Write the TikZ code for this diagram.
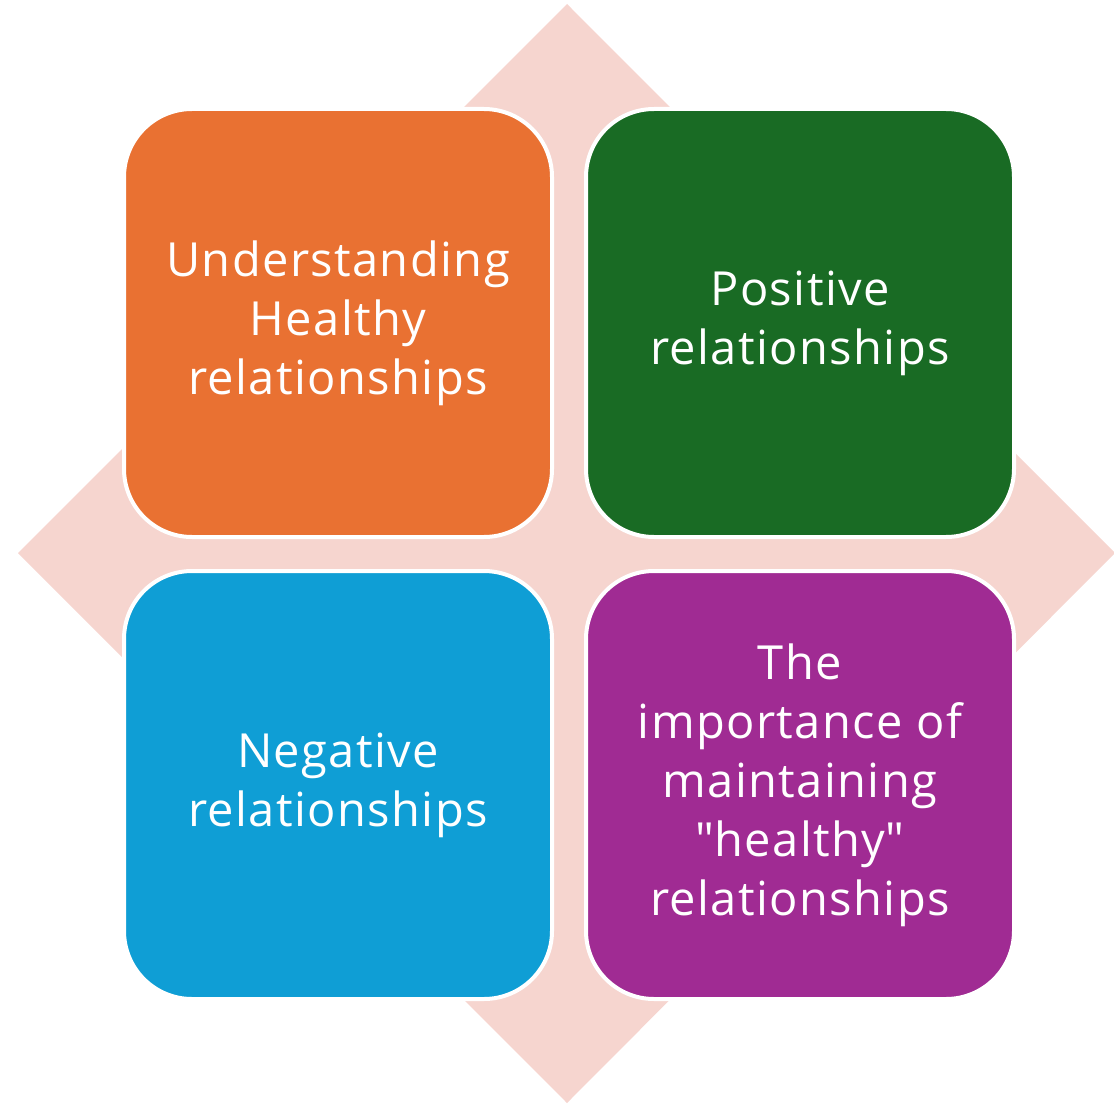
\documentclass[tikz,border=0pt]{standalone}
\usepackage{fontspec}
\setmainfont{Open Sans}[LetterSpace=3]
\usepackage{tikz}
\usetikzlibrary{positioning}
\definecolor{backdrop}{RGB}{246,213,207}
\definecolor{understand}{RGB}{233,113,50}
\definecolor{positive}{RGB}{25,107,36}
\definecolor{negative}{RGB}{15,158,213}
\definecolor{maintain}{RGB}{160,43,147}

\tikzset{
    topicbox/.style={rectangle, rounded corners=68pt, minimum width=428pt,
        minimum height=428pt, draw=white, line width=4pt, text=white,
        align=center, inner sep=0pt,
        font=\fontsize{47}{59}\selectfont}
}

\begin{document}
\begin{tikzpicture}[x=1pt,y=1pt]
    \useasboundingbox (0,0) rectangle (1114,-1105);

    % Diamond behind the boxes
    \coordinate (dtop) at (567,-4);
    \coordinate (dright) at (1115,-553);
    \coordinate (dbottom) at (567,-1103);
    \coordinate (dleft) at (18,-553);
    \fill[backdrop] (dtop) -- (dright) -- (dbottom) -- (dleft) -- cycle;

    % Four topics
    \node[topicbox, fill=understand] (understanding) at (338,-323)
        {Understanding\\Healthy\\relationships};
    \node[topicbox, fill=positive] (positive) at (800,-323)
        {Positive\\relationships};
    \node[topicbox, fill=negative] (negative) at (338,-785)
        {Negative\\relationships};
    \node[topicbox, fill=maintain] (maintaining) at (800,-785)
        {The\\importance of\\maintaining\\\textquotedbl healthy\textquotedbl\\relationships};
\end{tikzpicture}
\end{document}
